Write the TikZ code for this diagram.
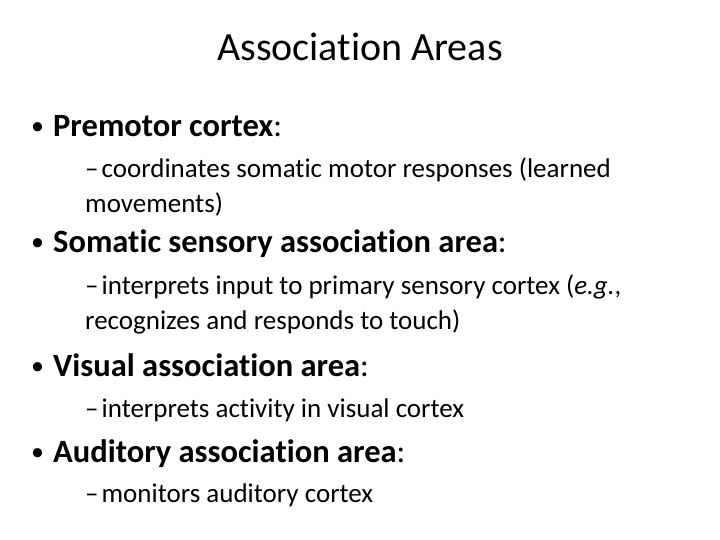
\documentclass[tikz,border=0pt]{standalone}
\usepackage{fontspec}
\setmainfont[RawFeature=-liga]{Carlito}
\begin{document}
\begin{tikzpicture}[x=1pt,y=-1pt,
  txt/.style={anchor=base west,inner sep=0pt,text=black},
  ttl/.style={anchor=base,inner sep=0pt,font=\fontsize{40}{48}\selectfont},
  lvl1/.style={txt,font=\fontsize{32.5}{39}\selectfont},
  bul/.style={txt,font=\fontsize{26}{30}\selectfont},
  lvl2/.style={txt,font=\fontsize{27}{32}\selectfont}]
\useasboundingbox (0,0) rectangle (720,540);
\node[ttl] (title) at (360,61) {Association Areas};
\node[bul] (b1) at (31,135) {•};
\node[lvl1] (t1) at (53,137) {\textbf{Premotor cortex}:};
\node[lvl2] (s1a) at (85,178) {–\hspace{3pt}coordinates somatic motor responses (learned};
\node[lvl2] (s1b) at (85,213) {movements)};
\node[bul] (b2) at (31,250) {•};
\node[lvl1] (t2) at (53,252) {\textbf{Somatic sensory association area}:};
\node[lvl2] (s2a) at (85,294) {–\hspace{3pt}interprets input to primary sensory cortex (\textit{e.g.},};
\node[lvl2] (s2b) at (85,329) {recognizes and responds to touch)};
\node[bul] (b3) at (31,374) {•};
\node[lvl1] (t3) at (53,376) {\textbf{Visual association area}:};
\node[lvl2] (s3) at (85,417) {–\hspace{3pt}interprets activity in visual cortex};
\node[bul] (b4) at (31,460) {•};
\node[lvl1] (t4) at (53,462) {\textbf{Auditory association area}:};
\node[lvl2] (s4) at (85,502) {–\hspace{3pt}monitors auditory cortex};
\end{tikzpicture}
\end{document}
